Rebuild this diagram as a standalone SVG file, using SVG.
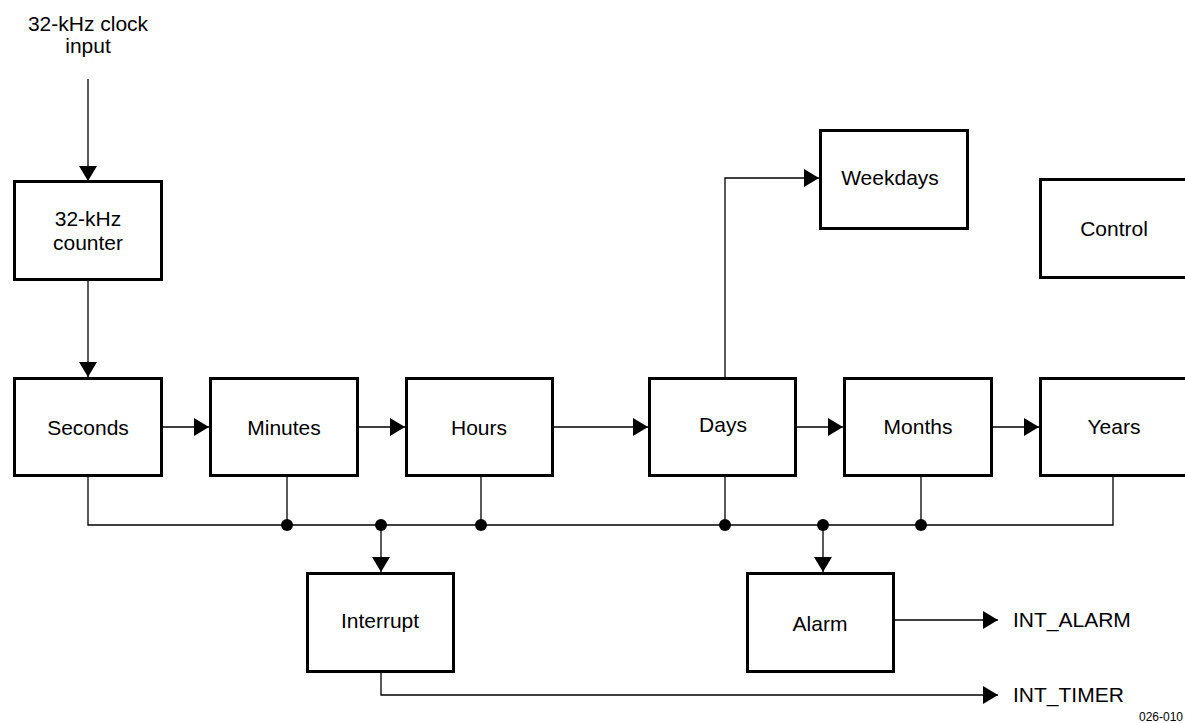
<svg xmlns="http://www.w3.org/2000/svg" width="1185" height="723" viewBox="0 0 1185 723">
  <defs>
    <marker id="arrow" markerUnits="userSpaceOnUse" markerWidth="15" markerHeight="18" refX="15" refY="9" orient="auto">
      <path d="M0,0 L15,9 L0,18 Z" fill="#000"/>
    </marker>
    <style>
      .box { fill: #fff; stroke: #000; stroke-width: 3; }
      .lbl { font-family: "Liberation Sans", Arial, sans-serif; font-size: 21px; fill: #000; text-anchor: middle; }
      .out { font-family: "Liberation Sans", Arial, sans-serif; font-size: 21px; fill: #000; }
      .wire { fill: none; stroke: #000; stroke-width: 1.3; }
      .arr { fill: none; stroke: #000; stroke-width: 1.3; marker-end: url(#arrow); }
      .dot { fill: #000; }
    </style>
  </defs>

  <rect width="1185" height="723" fill="#fff"/>

  <!-- clock input label -->
  <text class="lbl" x="88" y="31">32-kHz clock</text>
  <text class="lbl" x="88" y="53">input</text>

  <!-- connectors -->
  <g id="connectors">
    <path class="arr" d="M88,79 V181"/>
    <path class="arr" d="M88,281 V377"/>
    <path class="arr" d="M163,427 H209"/>
    <path class="arr" d="M359,427 H405"/>
    <path class="arr" d="M554,427 H648"/>
    <path class="arr" d="M797,427 H843"/>
    <path class="arr" d="M993,427 H1039"/>
    <path class="arr" d="M725,377 V178 H819"/>
    <!-- shared bus from every counter -->
    <path class="wire" d="M88,477 V525 H1113 V477"/>
    <path class="wire" d="M287,477 V525"/>
    <path class="wire" d="M481,477 V525"/>
    <path class="wire" d="M725,477 V525"/>
    <path class="wire" d="M921,477 V525"/>
    <circle class="dot" cx="287" cy="525" r="6"/>
    <circle class="dot" cx="381" cy="525" r="6"/>
    <circle class="dot" cx="481" cy="525" r="6"/>
    <circle class="dot" cx="725" cy="525" r="6"/>
    <circle class="dot" cx="823" cy="525" r="6"/>
    <circle class="dot" cx="921" cy="525" r="6"/>
    <path class="arr" d="M381,525 V572"/>
    <path class="arr" d="M823,525 V572"/>
    <path class="arr" d="M895,620 H998"/>
    <path class="arr" d="M381,673 V695 H998"/>
  </g>

  <g id="counter32k">
    <rect class="box" x="14.5" y="181.5" width="147" height="98"/>
    <text class="lbl" x="88" y="226">32-kHz</text>
    <text class="lbl" x="88" y="250">counter</text>
  </g>
  <g id="seconds">
    <rect class="box" x="14.5" y="378.5" width="147" height="97"/>
    <text class="lbl" x="88" y="435">Seconds</text>
  </g>
  <g id="minutes">
    <rect class="box" x="210.5" y="378.5" width="147" height="97"/>
    <text class="lbl" x="284" y="435">Minutes</text>
  </g>
  <g id="hours">
    <rect class="box" x="406.5" y="378.5" width="146" height="97"/>
    <text class="lbl" x="479" y="435">Hours</text>
  </g>
  <g id="days">
    <rect class="box" x="649.5" y="378.5" width="146" height="97"/>
    <text class="lbl" x="723" y="432">Days</text>
  </g>
  <g id="months">
    <rect class="box" x="844.5" y="378.5" width="147" height="97"/>
    <text class="lbl" x="918" y="434">Months</text>
  </g>
  <g id="years">
    <rect class="box" x="1040.5" y="378.5" width="147" height="97"/>
    <text class="lbl" x="1114" y="434">Years</text>
  </g>
  <g id="weekdays">
    <rect class="box" x="820.5" y="130.5" width="147" height="98"/>
    <text class="lbl" x="890" y="185">Weekdays</text>
  </g>
  <g id="control">
    <rect class="box" x="1040.5" y="179.5" width="147" height="98"/>
    <text class="lbl" x="1114" y="236">Control</text>
  </g>
  <g id="interrupt">
    <rect class="box" x="307.5" y="573.5" width="146" height="98"/>
    <text class="lbl" x="380" y="628">Interrupt</text>
  </g>
  <g id="alarm">
    <rect class="box" x="747.5" y="573.5" width="146" height="98"/>
    <text class="lbl" x="820" y="631">Alarm</text>
  </g>

  <g id="outputs">
    <text class="out" x="1013" y="627">INT_ALARM</text>
    <text class="out" x="1013" y="702">INT_TIMER</text>
  </g>
  <text x="1139" y="721" font-family="'Liberation Sans', Arial, sans-serif" font-size="12" fill="#000">026-010</text>
</svg>
